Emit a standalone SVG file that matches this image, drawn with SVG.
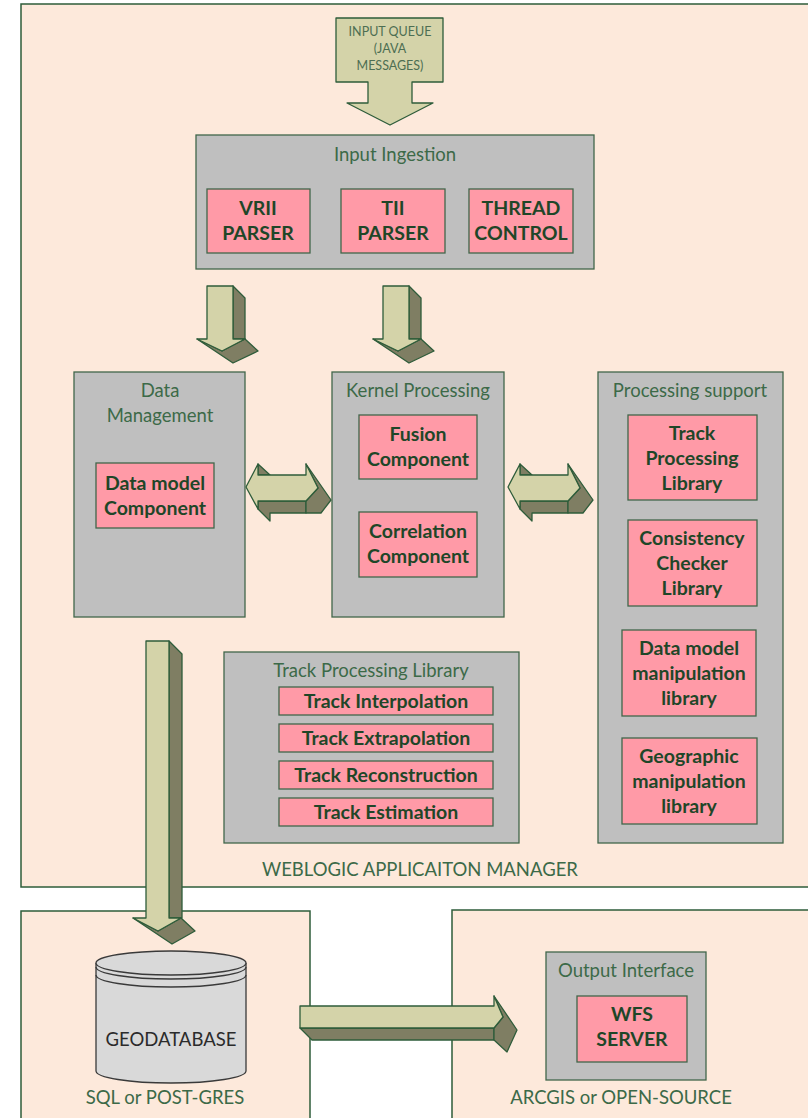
<svg xmlns="http://www.w3.org/2000/svg" width="808" height="1118" viewBox="0 0 808 1118">
<style>
.bg{fill:#fde9db;stroke:#2e5c3a;stroke-width:1.5}
.grp{fill:#bfbfbf;stroke:#41664a;stroke-width:1.3}
.pk{fill:#ff9aa7;stroke:#41664a;stroke-width:1.3}
.t{font-family:Lato,"Liberation Sans",sans-serif;font-size:18.5px;fill:#3c6a48;text-anchor:middle}
.b{font-family:Lato,"Liberation Sans",sans-serif;font-size:19.5px;font-weight:bold;fill:#1f4628;text-anchor:middle}
.lt{fill:#d4d3a9;stroke:#2e5c3a;stroke-width:1.3;stroke-linejoin:round}
.dk{fill:#7f7e63;stroke:#2e5c3a;stroke-width:1.3;stroke-linejoin:round}
.q{font-family:Lato,"Liberation Sans",sans-serif;font-size:12.5px;fill:#4d6e52;text-anchor:middle}
</style>
<defs>
<g id="down3d">
<polygon class="dk" points="233,286 245,298 245,339 233,339"/>
<polygon class="dk" points="197,339 222,351 245,339 258,351 233,363"/>
<polygon class="lt" points="207,286 233,286 233,339 245,339 222,351 197,339 207,339"/>
</g>
<g id="dbl3d">
<polygon class="dk" points="258,464 270,475 258,475"/>
<polygon class="dk" points="258,501 306,501 306,513 270,513 270,521 258,509"/>
<polygon class="dk" points="306,464 331,500 321,513 306,513 306,501 318,488"/>
<polygon class="lt" points="246,487 258,464 258,475 306,475 306,464 318,488 306,501 258,501 258,509"/>
</g>
</defs>

<g id="containers">
<rect class="bg" x="21" y="4" width="800" height="883"/>
<rect class="bg" x="21" y="911" width="289" height="220"/>
<rect class="bg" x="452" y="910" width="370" height="220"/>
<text class="t" x="420" y="876">WEBLOGIC APPLICAITON MANAGER</text>
<text class="t" x="165" y="1104">SQL or POST-GRES</text>
<text class="t" x="621" y="1104">ARCGIS or OPEN-SOURCE</text>
</g>

<g id="connectors">
<g id="input-queue">
<polygon class="lt" points="336,18 443,18 443,82 412,82 412,103 433,103 390,125 347,103 368,103 368,82 336,82"/>
<text class="q" x="390" y="36">INPUT QUEUE</text>
<text class="q" x="390" y="53">(JAVA</text>
<text class="q" x="390" y="70">MESSAGES)</text>
</g>
<use href="#down3d"/>
<use href="#down3d" transform="translate(176,0)"/>
<use href="#dbl3d"/>
<use href="#dbl3d" transform="translate(262,0)"/>
<g id="to-db">
<polygon class="dk" points="169,641 182,654 182,918 169,918"/>
<polygon class="dk" points="133,918 158,931 181,918 195,931 172,944"/>
<polygon class="lt" points="146,641 169,641 169,918 181,918 158,931 133,918 146,918"/>
</g>
<g id="to-output">
<polygon class="dk" points="300,1028 494,1028 494,1040 312,1040"/>
<polygon class="dk" points="494,996 517,1030 507,1052 494,1040 494,1028 503,1017"/>
<polygon class="lt" points="300,1006 494,1006 494,996 503,1017 494,1028 300,1028"/>
</g>
</g>

<g id="input-ingestion">
<rect class="grp" x="196" y="135" width="398" height="134"/>
<text class="t" x="395" y="161">Input Ingestion</text>
<rect class="pk" x="207" y="189" width="103" height="64"/>
<text class="b" x="258" y="215">VRII</text>
<text class="b" x="258" y="240">PARSER</text>
<rect class="pk" x="341" y="189" width="104" height="64"/>
<text class="b" x="393" y="215">TII</text>
<text class="b" x="393" y="240">PARSER</text>
<rect class="pk" x="469" y="189" width="104" height="64"/>
<text class="b" x="521" y="215">THREAD</text>
<text class="b" x="521" y="240">CONTROL</text>
</g>

<g id="data-management">
<rect class="grp" x="74" y="372" width="171" height="245"/>
<text class="t" x="160" y="397">Data</text>
<text class="t" x="160" y="422">Management</text>
<rect class="pk" x="96" y="463" width="118" height="65"/>
<text class="b" x="155" y="490">Data model</text>
<text class="b" x="155" y="515">Component</text>
</g>

<g id="kernel-processing">
<rect class="grp" x="332" y="372" width="172" height="245"/>
<text class="t" x="418" y="397">Kernel Processing</text>
<rect class="pk" x="359" y="415" width="118" height="64"/>
<text class="b" x="418" y="441">Fusion</text>
<text class="b" x="418" y="466">Component</text>
<rect class="pk" x="359" y="512" width="118" height="65"/>
<text class="b" x="418" y="538">Correlation</text>
<text class="b" x="418" y="563">Component</text>
</g>

<g id="processing-support">
<rect class="grp" x="598" y="372" width="185" height="471"/>
<text class="t" x="690" y="397">Processing support</text>
<rect class="pk" x="628" y="415" width="129" height="85"/>
<text class="b" x="692" y="440">Track</text>
<text class="b" x="692" y="465">Processing</text>
<text class="b" x="692" y="490">Library</text>
<rect class="pk" x="628" y="520" width="129" height="86"/>
<text class="b" x="692" y="545">Consistency</text>
<text class="b" x="692" y="570">Checker</text>
<text class="b" x="692" y="595">Library</text>
<rect class="pk" x="622" y="630" width="134" height="86"/>
<text class="b" x="689" y="655">Data model</text>
<text class="b" x="689" y="680">manipulation</text>
<text class="b" x="689" y="705">library</text>
<rect class="pk" x="622" y="738" width="135" height="86"/>
<text class="b" x="689" y="763">Geographic</text>
<text class="b" x="689" y="788">manipulation</text>
<text class="b" x="689" y="813">library</text>
</g>

<g id="track-processing-library">
<rect class="grp" x="224" y="652" width="295" height="191"/>
<text class="t" x="371" y="677">Track Processing Library</text>
<rect class="pk" x="279" y="687" width="214" height="28"/>
<text class="b" x="386" y="708">Track Interpolation</text>
<rect class="pk" x="279" y="724" width="214" height="28"/>
<text class="b" x="386" y="745">Track Extrapolation</text>
<rect class="pk" x="279" y="761" width="214" height="28"/>
<text class="b" x="386" y="782">Track Reconstruction</text>
<rect class="pk" x="279" y="798" width="214" height="28"/>
<text class="b" x="386" y="819">Track Estimation</text>
</g>

<g id="geodatabase">
<path d="M96,963 V1071 A75,12 0 0 0 246,1071 V963" fill="#d9d9d9" stroke="#3a3a3a" stroke-width="1.3"/>
<ellipse cx="171" cy="963" rx="75" ry="12" fill="#d9d9d9" stroke="#3a3a3a" stroke-width="1.3"/>
<path d="M96,967 A75,12 0 0 0 246,967 M96,975 A75,12 0 0 0 246,975" fill="none" stroke="#3a3a3a" stroke-width="1.3"/>
<text x="171" y="1046" font-family="Lato,'Liberation Sans',sans-serif" font-size="18.5" fill="#2b2b2b" text-anchor="middle">GEODATABASE</text>
</g>

<g id="output-interface">
<rect class="grp" x="546" y="952" width="160" height="128"/>
<text class="t" x="626" y="977">Output Interface</text>
<rect class="pk" x="577" y="996" width="110" height="66"/>
<text class="b" x="632" y="1021">WFS</text>
<text class="b" x="632" y="1046">SERVER</text>
</g>
</svg>
